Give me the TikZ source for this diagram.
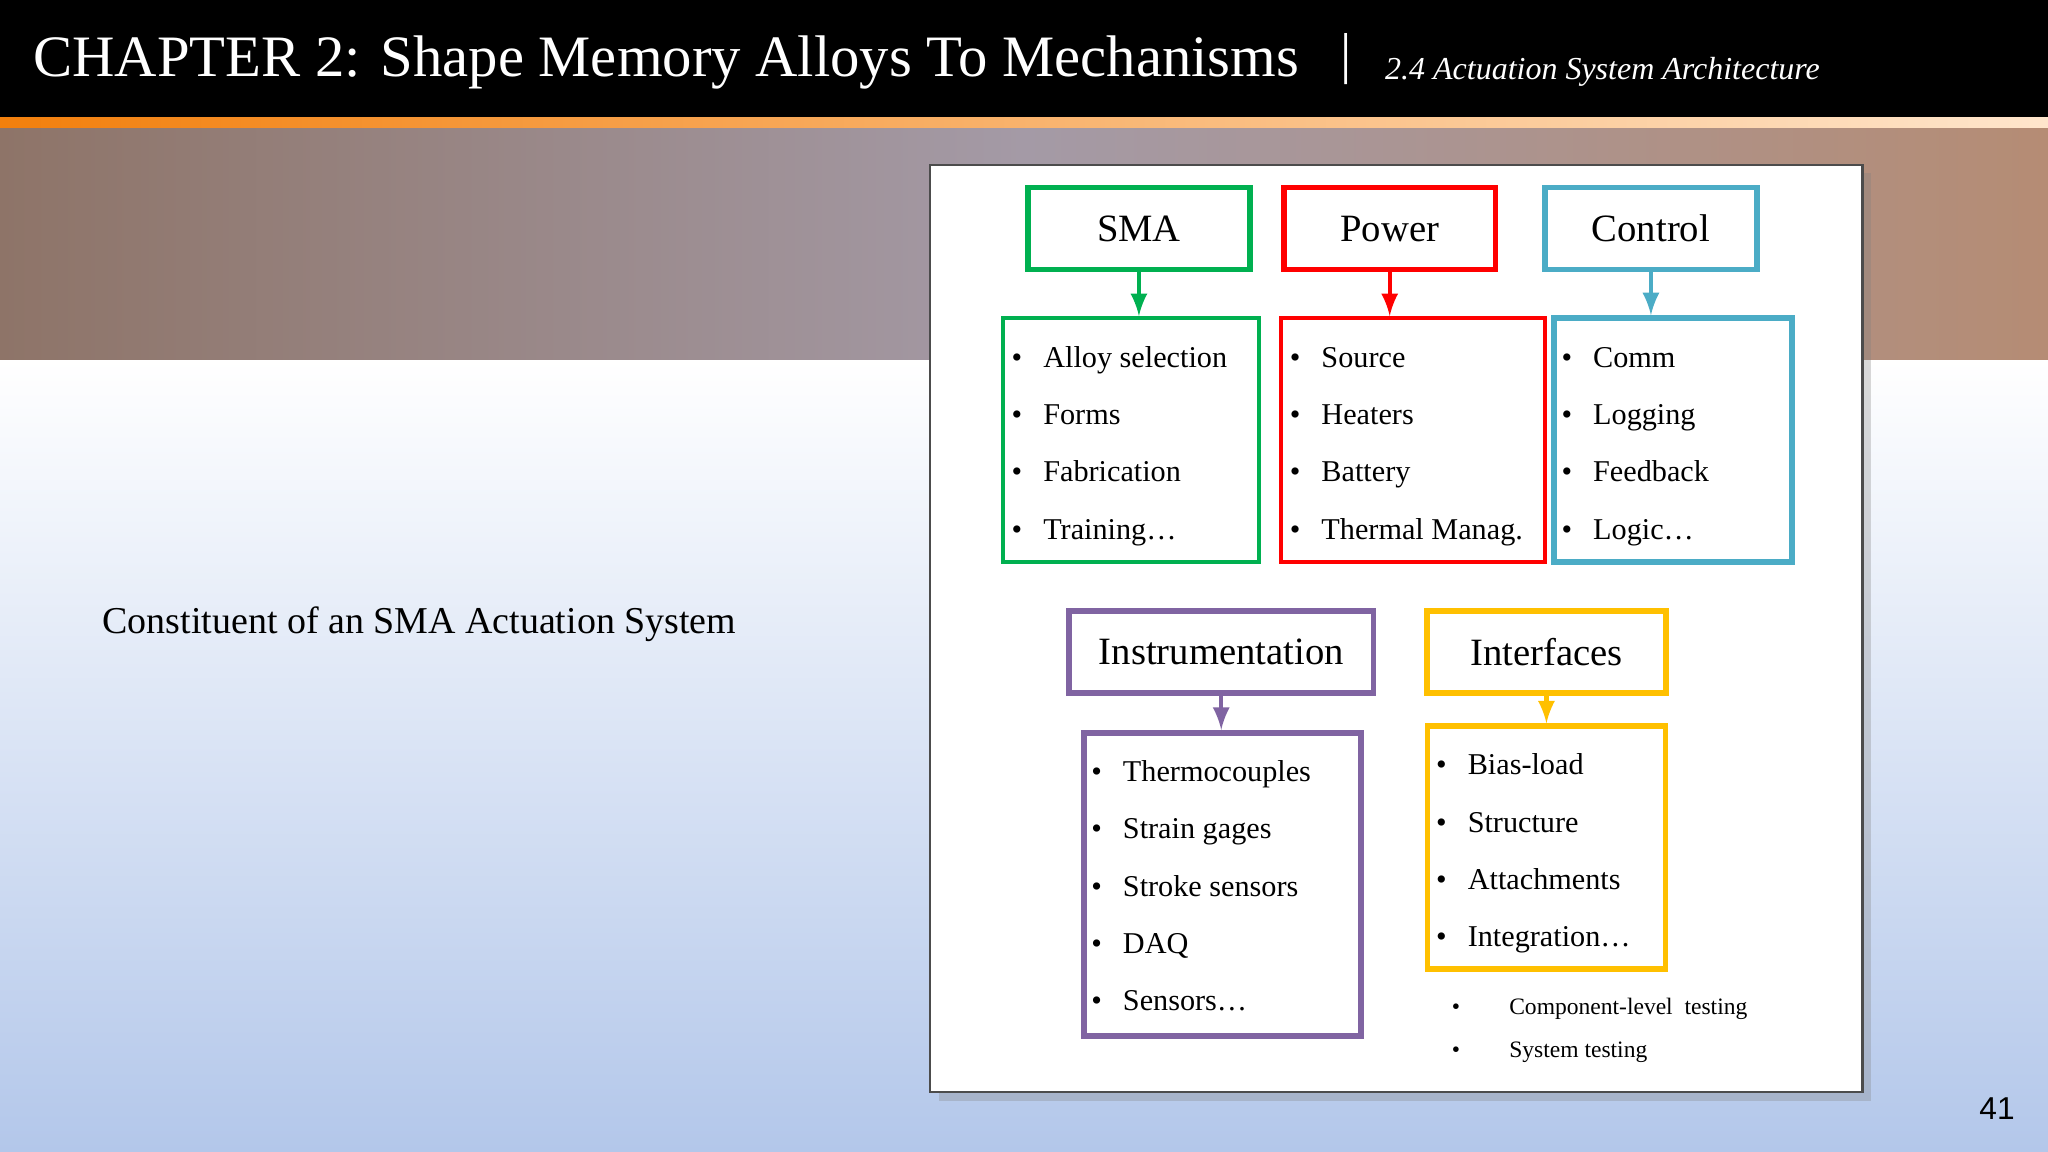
\documentclass[tikz,border=0pt]{standalone}
\usepackage{fontspec}
\setmainfont{Liberation Serif}
\setsansfont{Liberation Sans}
\usetikzlibrary{positioning,shadows}
\definecolor{smagreen}{HTML}{00B050}
\definecolor{pwrred}{HTML}{FF0000}
\definecolor{ctlblue}{HTML}{4BACC6}
\definecolor{insviolet}{HTML}{8064A2}
\definecolor{ifcyellow}{HTML}{FFC000}
\definecolor{bandleft}{HTML}{8E7468}
\definecolor{bandmid}{HTML}{A49AA6}
\definecolor{bandright}{HTML}{B58C74}
\definecolor{floor}{HTML}{B3C7EA}
\tikzset{
	head/.style={draw=#1,line width=1.6pt,minimum height=0.82cm,inner sep=0pt,font=\fontsize{11}{13}\selectfont},
	list/.style={draw=#1,line width=1.1pt,inner sep=0pt},
	item/.style={anchor=base west,inner sep=0pt,font=\fontsize{8.6}{10}\selectfont},
	link/.style={draw=#1,line width=1.2pt,-latex}
}
\begin{document}
\begin{tikzpicture}[x=0.013061cm,y=-0.013061cm]
	\useasboundingbox (0,0) rectangle (1568,882);
	% background
	\shade[top color=white,bottom color=floor] (0,275) rectangle (1568,882);
	\shade[left color=bandleft,right color=bandright,middle color=bandmid] (0,98) rectangle (1568,275);
	\fill[black] (0,0) rectangle (1568,90);
	\shade[left color=orange!80!brown,right color=orange!20] (0,90) rectangle (1568,98);
	\node (title) [anchor=west,text=white,inner sep=0pt,font=\fontsize{16.7}{19}\selectfont] at (25,48) {CHAPTER 2: Shape Memory Alloys To Mechanisms};
	\node (bar) [text=white,inner sep=0pt,font=\fontsize{16}{18}\selectfont] at (1031,45) {|};
	\node (sub) [anchor=west,text=white,inner sep=0pt,font=\fontsize{9.1}{11}\selectfont\itshape] at (1060,55) {2.4 Actuation System Architecture};
	\node (lead) [anchor=west,inner sep=0pt,font=\fontsize{10.8}{12}\selectfont] at (78,478) {Constituent of an SMA Actuation System};
	\node (page) [inner sep=0pt,font=\sffamily\fontsize{9}{11}\selectfont] at (1529,849) {41};
	% panel
	\fill[white,draw=black!70,line width=0.6pt,drop shadow={opacity=0.3,shadow xshift=2.5pt,shadow yshift=-2.5pt}] (712,126) rectangle (1426,836);
	% headers
	\node (sma) [head=smagreen,minimum width=170*0.013061cm] at (872,175) {SMA};
	\node (pwr) [head=pwrred,minimum width=162*0.013061cm] at (1064,175) {Power};
	\node (ctl) [head=ctlblue,minimum width=162*0.013061cm] at (1264,175) {Control};
	\node (ins) [head=insviolet,minimum width=233*0.013061cm] at (935,499) {Instrumentation};
	\node (ifc) [head=ifcyellow,minimum width=183*0.013061cm] at (1184,499) {Interfaces};
	% lists
	\node (smal) [list=smagreen,minimum width=196*0.013061cm,minimum height=187*0.013061cm] at (866,337) {};
	\node (pwrl) [list=pwrred,minimum width=202*0.013061cm,minimum height=187*0.013061cm] at (1082,337) {};
	\node (ctll) [list=ctlblue,minimum width=182*0.013061cm,minimum height=187*0.013061cm,line width=1.6pt] at (1281,337) {};
	\node (insl) [list=insviolet,minimum width=212*0.013061cm,minimum height=232*0.013061cm,line width=1.6pt] at (936,677) {};
	\node (ifcl) [list=ifcyellow,minimum width=182*0.013061cm,minimum height=186*0.013061cm,line width=1.6pt] at (1184,649) {};
	% links
	\draw[link=smagreen] (sma) -- (sma|-smal.north);
	\draw[link=pwrred] (pwr) -- (pwr|-pwrl.north);
	\draw[link=ctlblue] (ctl) -- (ctl|-ctll.north);
	\draw[link=insviolet] (ins) -- (ins|-insl.north);
	\draw[link=ifcyellow] (ifc) -- (ifc|-ifcl.north);
	% items
	\foreach \t [count=\i] in {Alloy selection,Forms,Fabrication,Training\dots}
		\node (s\i) [item] at (774,237+44*\i) {\textbullet\hspace{6pt}\t};
	\foreach \t [count=\i] in {Source,Heaters,Battery,Thermal Manag.}
		\node (p\i) [item] at (987,237+44*\i) {\textbullet\hspace{6pt}\t};
	\foreach \t [count=\i] in {Comm,Logging,Feedback,Logic\dots}
		\node (c\i) [item] at (1195,237+44*\i) {\textbullet\hspace{6pt}\t};
	\foreach \t [count=\i] in {Thermocouples,Strain gages,Stroke sensors,DAQ,Sensors\dots}
		\node (n\i) [item] at (835,554+44*\i) {\textbullet\hspace{6pt}\t};
	\foreach \t [count=\i] in {Bias-load,Structure,Attachments,Integration\dots}
		\node (f\i) [item] at (1099,549+44*\i) {\textbullet\hspace{6pt}\t};
	\foreach \t/\y [count=\i] in {Component-level\ \ testing/777,System testing/810}{
		\node (b\i) [item,font=\fontsize{6.7}{8}\selectfont] at (1111,\y) {\textbullet};
		\node (e\i) [item,font=\fontsize{6.7}{8}\selectfont] at (1155,\y) {\t};
	}
\end{tikzpicture}
\end{document}
